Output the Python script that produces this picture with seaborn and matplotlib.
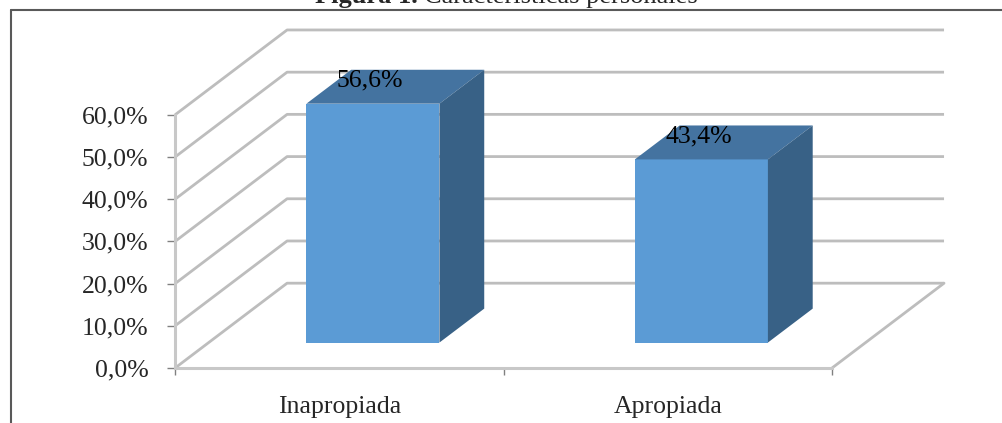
import matplotlib
matplotlib.use("Agg")
import matplotlib.pyplot as plt
from matplotlib.patches import Polygon
from matplotlib.lines import Line2D
import pandas as pd
import seaborn as sns

# === datos ===
categorias = ["Inapropiada", "Apropiada"]
porcentajes = [56.6, 43.4]
etiquetas = ["56,6%", "43,4%"]
yticks = [0, 10, 20, 30, 40, 50, 60]
ytick_labels = ["0,0%", "10,0%", "20,0%", "30,0%", "40,0%", "50,0%", "60,0%"]
titulo_neg = "Figura 1."
titulo = "Características personales"

sns.set_theme(style="white")
plt.rcParams["font.family"] = ["Liberation Serif", "DejaVu Serif"]
fs = 18.5

fig = plt.figure(figsize=(10.02, 4.23), dpi=100)
ax = fig.add_axes([0, 0, 1, 1])
ax.set_facecolor("none")

df = pd.DataFrame({"categoria": categorias, "porcentaje": porcentajes})
sns.barplot(data=df, x="categoria", y="porcentaje", width=0.405,
            color="#5B9BD5", saturation=1, ax=ax, zorder=3, linewidth=0)
ax.set(xlabel="", ylabel="")

ax.set_xlim(-1.033, 2.0175)
ax.set_ylim(-13.03, 87.2)

# profundidad 3D (en unidades de datos)
dx, dy = 0.341, 20.1
grid_c = "#bdbdbd"
x0, x1 = -0.5, len(categorias) - 0.5

# paredes / rejilla
for t in yticks:
    ax.plot([x0, x0 + dx, x1 + dx], [t, t + dy, t + dy], color=grid_c, lw=2, zorder=1,
            solid_capstyle="butt")
ax.plot([x1, x1 + dx], [0, dy], color=grid_c, lw=2, zorder=1)

# barras: desplazar la cara frontal y añadir tapa y lateral
bx, by = 0.4 * dx, 0.4 * dy
for p, lab in zip(ax.patches, etiquetas):
    p.set_x(p.get_x() + 0.3 * dx)
    p.set_y(0.3 * dy)
    x, w, y0, h = p.get_x(), p.get_width(), p.get_y(), p.get_height()
    top = [(x, y0 + h), (x + w, y0 + h), (x + w + bx, y0 + h + by), (x + bx, y0 + h + by)]
    side = [(x + w, y0), (x + w + bx, y0 + by), (x + w + bx, y0 + h + by), (x + w, y0 + h)]
    ax.add_patch(Polygon(top, closed=True, facecolor="#4473A0", edgecolor="none", zorder=3))
    ax.add_patch(Polygon(side, closed=True, facecolor="#386186", edgecolor="none", zorder=3))
    ax.annotate(lab, xy=(x + w / 2, y0 + h), xytext=(-2, 16.5), textcoords="offset points",
                ha="center", va="center", fontsize=fs, color="black", zorder=5)

# ejes frontales
for s in ["top", "right"]:
    ax.spines[s].set_visible(False)
ax.spines["left"].set_position(("data", x0))
ax.spines["left"].set_bounds(0, 60)
ax.spines["bottom"].set_position(("data", 0))
ax.spines["bottom"].set_bounds(x0, x1)
for s in ["left", "bottom"]:
    ax.spines[s].set_color("#c8c8c8")
    ax.spines[s].set_linewidth(2.2)
    ax.spines[s].set_zorder(2)

ax.set_yticks(yticks)
ax.set_yticklabels(ytick_labels, fontsize=fs)
ax.tick_params(axis="y", direction="out", length=5.8, width=1, color="#808080", pad=13.5, left=True)
ax.set_xticks(range(len(categorias)))
ax.set_xticklabels(categorias, fontsize=fs)
ax.set_xticks([x0, 0.5, x1], minor=True)
ax.tick_params(axis="x", which="major", length=0, pad=20)
ax.tick_params(axis="x", which="minor", direction="out", length=5, width=1, color="#808080", bottom=True)

# marco y título
fig.add_artist(Line2D([11 / 1002, 11 / 1002], [0, 1 - 10 / 423], transform=fig.transFigure,
                      color="#595959", lw=1.5))
fig.add_artist(Line2D([11 / 1002, 1], [1 - 10 / 423, 1 - 10 / 423], transform=fig.transFigure,
                      color="#595959", lw=1.5))
fig.text(418 / 1002, 1 - 3.5 / 423, titulo_neg, ha="right", va="baseline", fontsize=19,
         fontweight="bold")
fig.text(424 / 1002, 1 - 3.5 / 423, titulo, ha="left", va="baseline", fontsize=19)

fig.savefig("out.png", dpi=100)
